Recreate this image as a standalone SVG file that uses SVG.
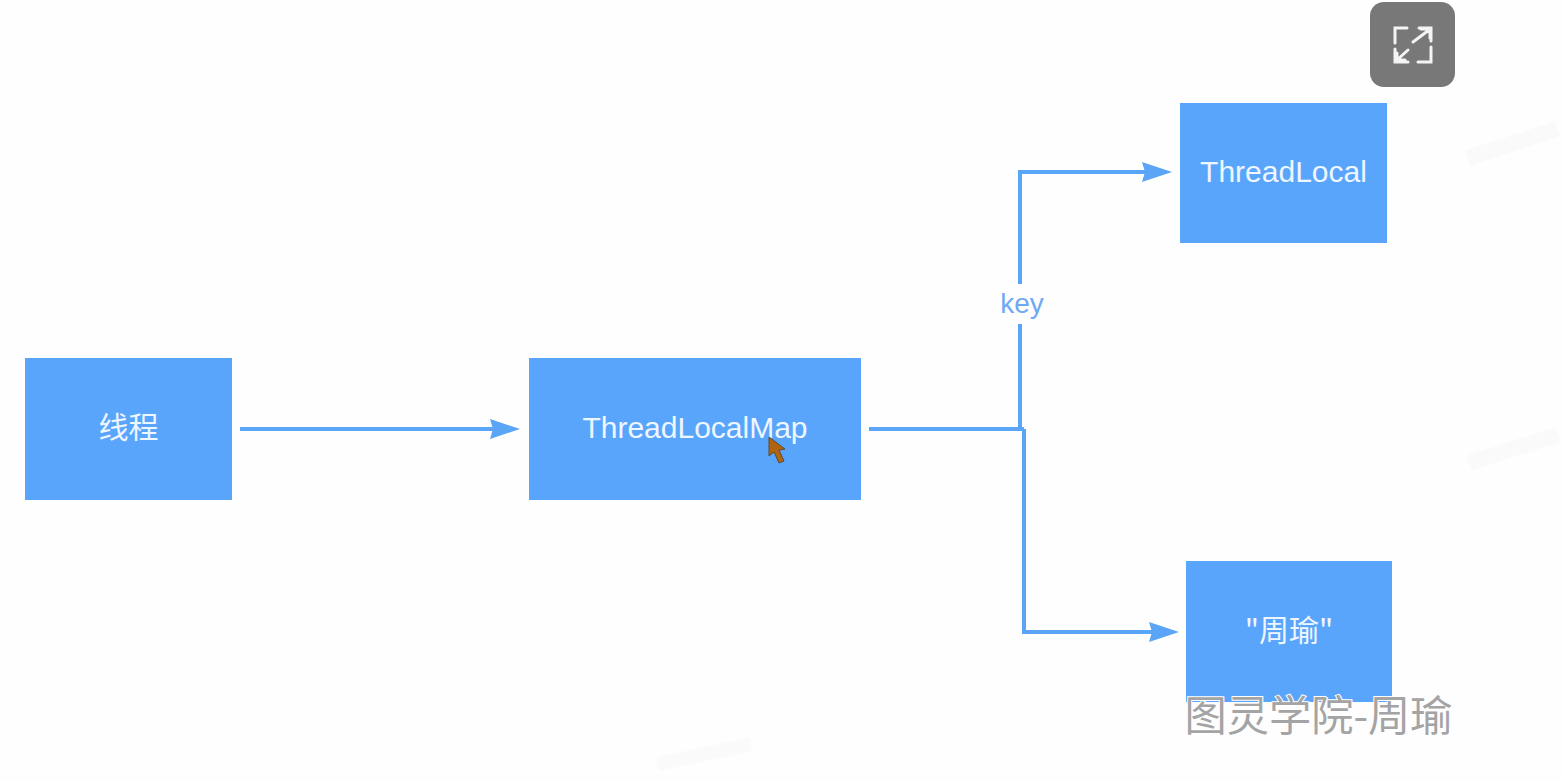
<svg xmlns="http://www.w3.org/2000/svg" width="1563" height="781" viewBox="0 0 1563 781">
<style>
.box{fill:#5aa5fc}
.lbl{font-family:"Liberation Sans","Noto Sans CJK SC",sans-serif;font-size:30px;fill:#eef6ff;text-anchor:middle}
.cjk{font-family:"Noto Sans CJK SC","Liberation Sans",sans-serif;font-size:30px}
.line{fill:none;stroke:#5aa5f5;stroke-width:4}
.wm{fill:#fafafa}
</style>
<defs>
<marker id="arrow" markerUnits="userSpaceOnUse" markerWidth="32" markerHeight="24" refX="14" refY="12" orient="auto">
<path d="M0 2 L30 12 L0 22 L3 12 Z" fill="#5aa5f5"/>
</marker>
</defs>
<rect width="1563" height="781" fill="#fefefe"/>
<g id="faint-marks">
<rect class="wm" x="1468" y="150" width="95" height="16" transform="rotate(-18 1468 160)"/>
<rect class="wm" x="1470" y="455" width="93" height="16" transform="rotate(-18 1470 465)"/>
<rect class="wm" x="658" y="757" width="95" height="14" transform="rotate(-12 658 765)"/>
</g>
<g id="connectors">
<path class="line" marker-end="url(#arrow)" d="M240 429 H504"/>
<path class="line" d="M869 429 H1024"/>
<path class="line" marker-end="url(#arrow)" d="M1020 429 V172 H1156"/>
<path class="line" marker-end="url(#arrow)" d="M1024 429 V632 H1163"/>
</g>
<g id="edge-label-key">
<rect x="998" y="284" width="48" height="40" fill="#fefefe"/>
<text x="1022" y="313" font-family="'Liberation Sans',sans-serif" font-size="28" fill="#6fa8f3" text-anchor="middle">key</text>
</g>
<g id="node-thread">
<rect class="box" x="25" y="358" width="207" height="142"/>
<text class="lbl cjk" x="128.500" y="438">线程</text>
</g>
<g id="node-map">
<rect class="box" x="529" y="358" width="332" height="142"/>
<text class="lbl" x="695" y="438">ThreadLocalMap</text>
</g>
<g id="node-threadlocal">
<rect class="box" x="1180" y="103" width="207" height="140"/>
<text class="lbl" x="1283.500" y="182">ThreadLocal</text>
</g>
<g id="node-value">
<rect class="box" x="1186" y="561" width="206" height="141"/>
<text class="lbl cjk" x="1289" y="641">"周瑜"</text>
</g>
<g id="cursor">
<path d="M769 437 L769 456 L774 452 L779 463 L784 461 L779 450 L785 449 Z" fill="#b0640f" stroke="#5a4a30" stroke-width="1"/>
</g>
<g id="expand-button">
<rect x="1370" y="2" width="85" height="85" rx="14" fill="#787878"/>
<path d="M1407 28 H1395 V43 M1419 28 H1431 V41 M1395 49 V62 H1408 M1431 47 V62 H1418 M1413 42 L1429 30 M1421 29 H1430 V38 M1397 60 L1408 50 M1397 53 V60 H1405" fill="none" stroke="#f4f4f4" stroke-width="3" stroke-linecap="round"/>
</g>
<g id="caption">
<text x="1318.500" y="731" font-family="'Noto Sans CJK SC','Liberation Sans',sans-serif" font-size="42" fill="#a4a4a4" stroke="#ffffff" stroke-width="2" paint-order="stroke" text-anchor="middle" textLength="268" lengthAdjust="spacingAndGlyphs">图灵学院-周瑜</text>
</g>
</svg>
